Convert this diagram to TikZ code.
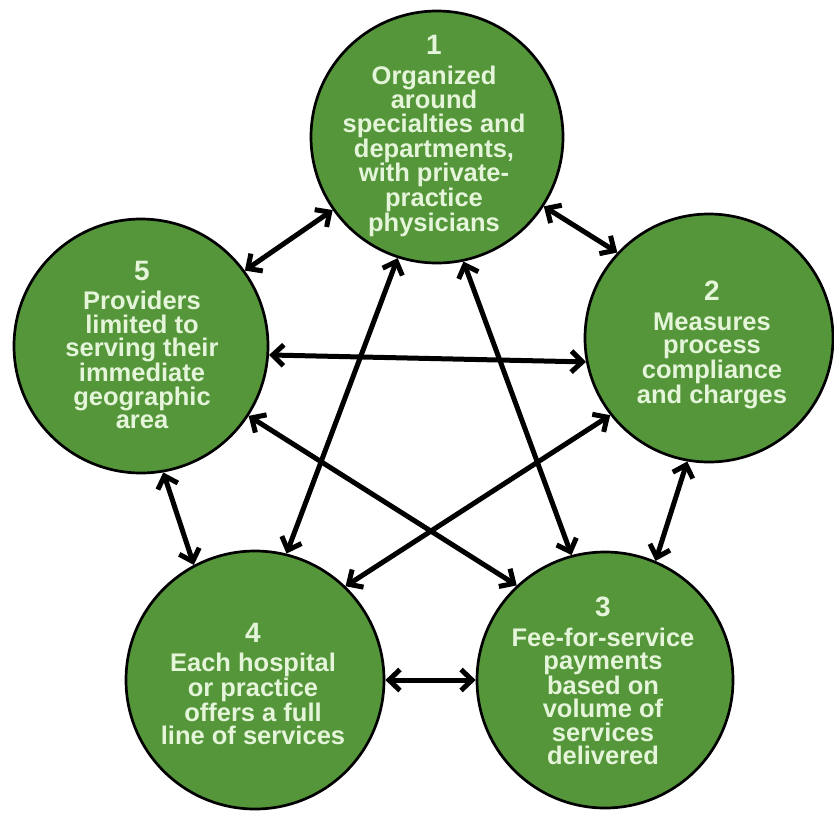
\documentclass[tikz,border=0pt]{standalone}
\usepackage{fontspec}
\setmainfont{Liberation Sans}
\usetikzlibrary{arrows.meta}
\definecolor{cgreen}{RGB}{86,150,58}
\definecolor{ctext}{RGB}{228,245,218}
\newcommand{\numfont}{\fontsize{28}{23.5}\selectfont}
\begin{document}
\begin{tikzpicture}[x=1pt,y=-1pt,
  circ/.style={circle, draw=black, line width=2.7pt, fill=cgreen, inner sep=0pt},
  label/.style={text=ctext, font=\bfseries\fontsize{25.5}{23.5}\selectfont, align=center, inner sep=0pt},
  link/.style={line width=5pt, {Straight Barb[length=11pt,width=21pt]}-{Straight Barb[length=11pt,width=21pt]}}
]
\useasboundingbox (0,0) rectangle (834,812);
\node[circ, minimum size=252pt] (c1) at (437,137) {};
\node[circ, minimum size=248pt] (c2) at (709,338) {};
\node[circ, minimum size=256pt] (c3) at (605,680) {};
\node[circ, minimum size=258pt] (c4) at (255,680) {};
\node[circ, minimum size=254pt] (c5) at (141,346) {};

\node[label] (t1) at (434,136) {{\numfont 1}\\[6pt]Organized\\around\\specialties and\\departments,\\with private-\\practice\\physicians};
\node[label] (t2) at (712,345) {{\numfont 2}\\[6pt]Measures\\process\\compliance\\and charges};
\node[label] (t3) at (603,681) {{\numfont 3}\\[6pt]Fee-for-service\\payments\\based on\\volume of\\services\\delivered};
\node[label] (t4) at (253,684) {{\numfont 4}\\[6pt]Each hospital\\or practice\\offers a full\\line of services};
\node[label] (t5) at (142,345) {{\numfont 5}\\[6pt]Providers\\limited to\\serving their\\immediate\\geographic\\area};

\draw[link] (c5.36) -- (c1.215);
\draw[link] (c1.327) -- (c2.137);
\draw[link] (c5.-4) -- (c2.191);
\draw[link] (c1.252) -- (c4.76);
\draw[link] (c1.282) -- (c3.105);
\draw[link] (c5.-33) -- (c3.133);
\draw[link] (c2.218) -- (c4.46);
\draw[link] (c5.-80) -- (c4.118);
\draw[link] (c2.260) -- (c3.67);
\draw[link] (c4.0) -- (c3.180);
\end{tikzpicture}
\end{document}
